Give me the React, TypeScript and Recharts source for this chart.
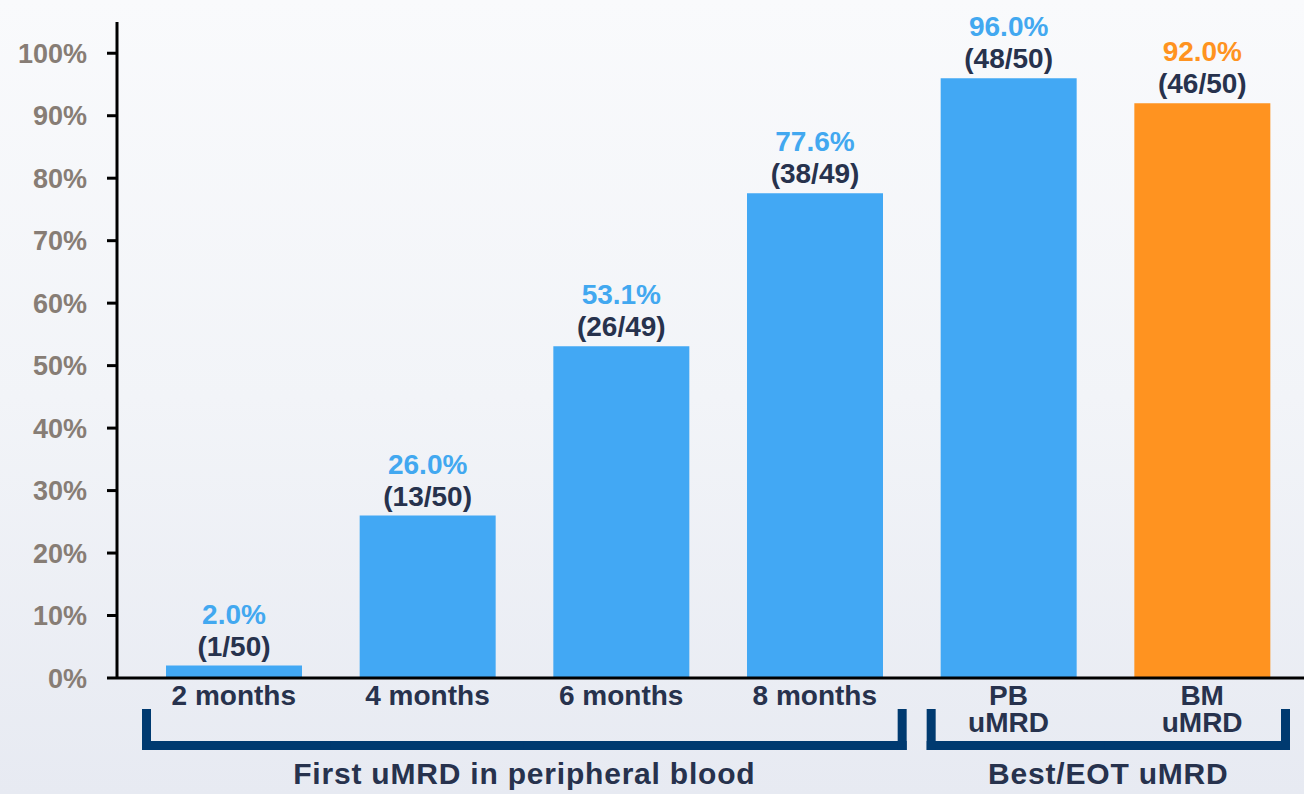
import React from 'react';
import { BarChart, Bar, XAxis, YAxis, Cell, LabelList } from 'recharts';

// uMRD rate by time point (percent), with responders / evaluable patients
const categories = ['2 months', '4 months', '6 months', '8 months', 'PB\nuMRD', 'BM\nuMRD'];
const rates = [2.0, 26.0, 53.1, 77.6, 96.0, 92.0];
const responders = [1, 13, 26, 38, 48, 46];
const patients = [50, 50, 49, 49, 50, 50];
const yTicks = [0, 10, 20, 30, 40, 50, 60, 70, 80, 90, 100];

const groups = [
  { label: 'First uMRD in peripheral blood', first: 0, last: 3, insetLeft: 5, insetRight: 5 },
  { label: 'Best/EOT uMRD', first: 4, last: 5, insetLeft: 15, insetRight: 9 },
];

const BLUE = '#42a8f4';
const ORANGE = '#ff9320';
const barColors = [BLUE, BLUE, BLUE, BLUE, BLUE, ORANGE];
const pctColors = ['#42a8f0', '#42a8f0', '#42a8f0', '#42a8f0', '#42a8f0', '#ff9320'];
const NAVY = '#27324d';
const BRACKET = '#003a70';
const FONT = "'Liberation Sans', Arial, sans-serif";

const W = 1304;
const H = 794;
const Y_W = 117;
const TOP = 22;
const X_H = 116;
const PAD_L = 20;
const PAD_R = 5;
const AXIS_Y = H - X_H;
const step = (W - Y_W - PAD_L - PAD_R) / categories.length;

const data = categories.map((name, i) => ({ name, rate: rates[i] }));

const CategoryTick = (props: any) => {
  const { x, payload } = props;
  const index: number = props.index ?? payload?.index ?? 0;
  const lines = String(payload.value).split('\n');
  const group = groups.find((g) => index >= g.first && index <= g.last);

  const pieces: React.ReactNode[] = [];
  if (group) {
    const left = index === group.first ? x - step / 2 + group.insetLeft : x - step / 2 - 0.5;
    const right = index === group.last ? x + step / 2 - group.insetRight : x + step / 2 + 0.5;
    pieces.push(<rect key="h" x={left} y={AXIS_Y + 63} width={right - left} height={9} fill={BRACKET} />);
    if (index === group.first) {
      pieces.push(<rect key="vl" x={left} y={AXIS_Y + 31} width={9} height={41} fill={BRACKET} />);
    }
    if (index === group.last) {
      pieces.push(<rect key="vr" x={right - 9} y={AXIS_Y + 31} width={9} height={41} fill={BRACKET} />);
      const groupLeft = x - (group.last - group.first) * step - step / 2 + group.insetLeft;
      pieces.push(
        <text
          key="g"
          x={(groupLeft + right) / 2}
          y={AXIS_Y + 106}
          textAnchor="middle"
          fill={NAVY}
          fontFamily={FONT}
          fontWeight="bold"
          fontSize={30}
          letterSpacing={0.8}
        >
          {group.label}
        </text>
      );
    }
  }

  return (
    <g>
      {pieces}
      {lines.map((line, i) => (
        <text
          key={i}
          x={x}
          y={AXIS_Y + 27 + i * 27}
          textAnchor="middle"
          fill={NAVY}
          fontFamily={FONT}
          fontWeight="bold"
          fontSize={28}
        >
          {line}
        </text>
      ))}
    </g>
  );
};

const ValueLabel = (props: any) => {
  const { x, y, width, index } = props;
  const cx = x + width / 2;
  return (
    <g>
      <text x={cx} y={y - 42} textAnchor="middle" fill={pctColors[index]} fontFamily={FONT} fontWeight="bold" fontSize={28}>
        {`${rates[index].toFixed(1)}%`}
      </text>
      <text x={cx} y={y - 10} textAnchor="middle" fill={NAVY} fontFamily={FONT} fontWeight="bold" fontSize={28}>
        {`(${responders[index]}/${patients[index]})`}
      </text>
    </g>
  );
};

export default function App() {
  return (
    <div
      style={{
        width: W,
        height: H,
        background: 'linear-gradient(180deg, #f9fafc 0%, #f2f4f8 50%, #e7eaf2 100%)',
      }}
    >
      <style>{'body { margin: 0; }'}</style>
      <BarChart width={W} height={H} data={data} margin={{ top: TOP, right: 0, bottom: 0, left: 0 }}>
        <XAxis
          dataKey="name"
          height={X_H}
          interval={0}
          padding={{ left: PAD_L, right: PAD_R }}
          axisLine={{ stroke: '#000', strokeWidth: 3 }}
          tickLine={false}
          tick={<CategoryTick />}
        />
        <YAxis
          width={Y_W}
          domain={[0, 105]}
          ticks={yTicks}
          allowDataOverflow
          tickFormatter={(v: number) => `${v}%`}
          axisLine={{ stroke: '#000', strokeWidth: 3 }}
          tickLine={{ stroke: '#000', strokeWidth: 3 }}
          tickSize={10}
          tickMargin={20}
          tick={{ fill: '#877d75', fontFamily: FONT, fontWeight: 'bold', fontSize: 27 }}
        />
        <Bar dataKey="rate" barSize={136} isAnimationActive={false}>
          {data.map((_, i) => (
            <Cell key={`cell-${i}`} fill={barColors[i]} />
          ))}
          <LabelList dataKey="rate" content={<ValueLabel />} />
        </Bar>
      </BarChart>
    </div>
  );
}
